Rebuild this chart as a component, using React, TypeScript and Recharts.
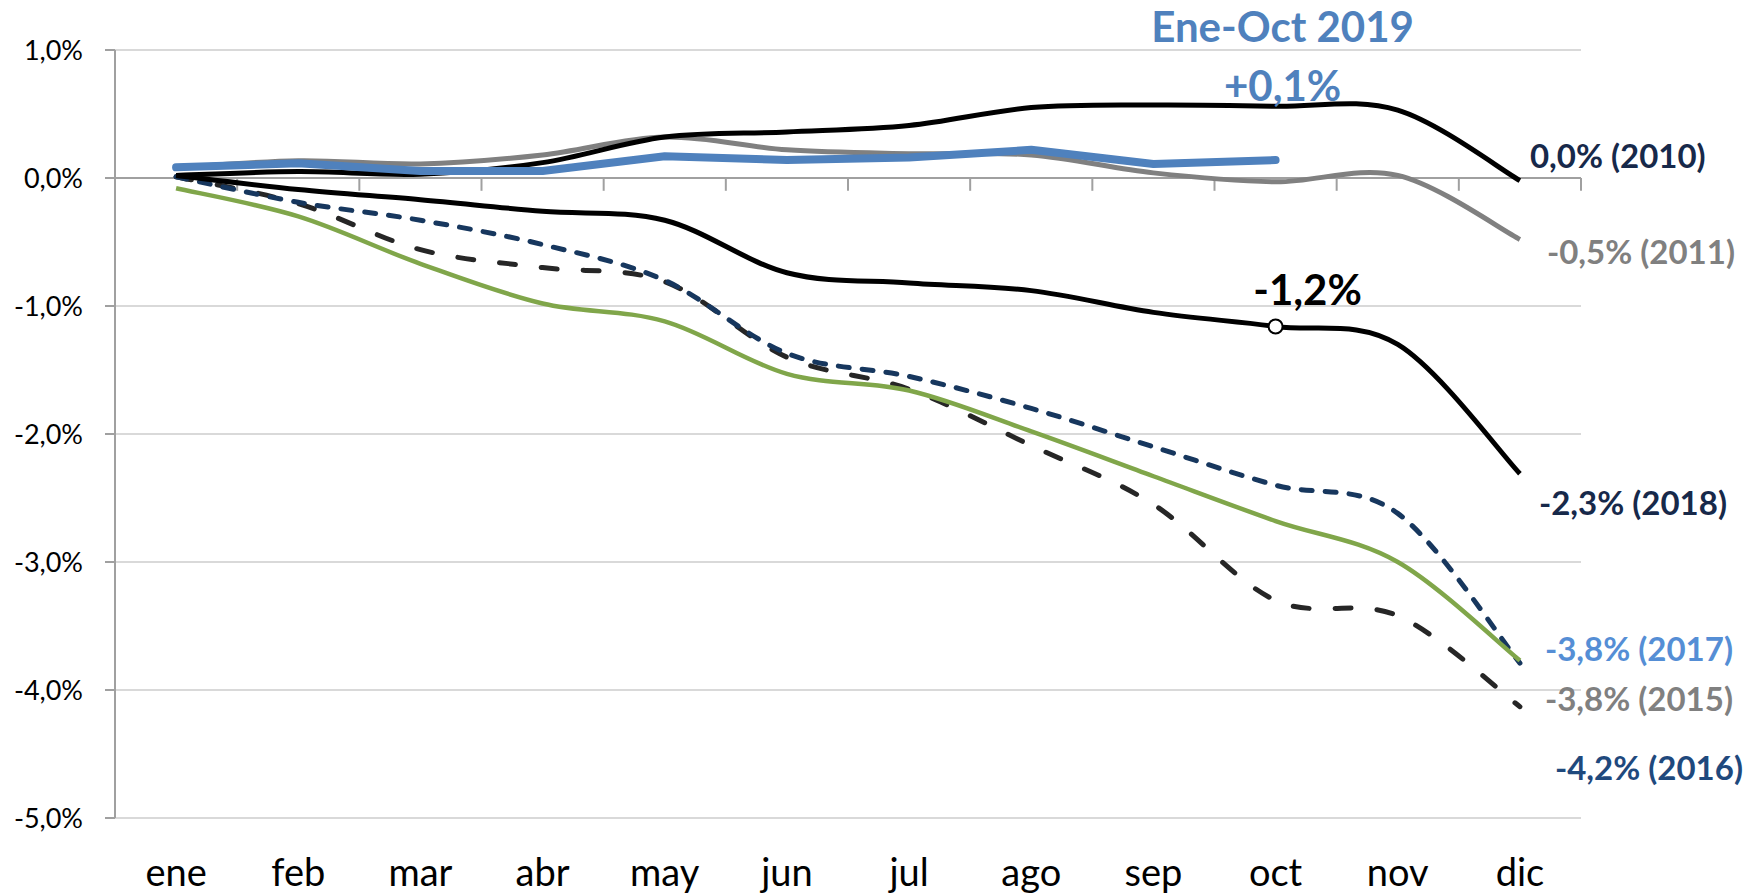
import React from 'react';
import { LineChart, Line, XAxis, YAxis, CartesianGrid, ReferenceLine } from 'recharts';

const MONTHS = ['ene', 'feb', 'mar', 'abr', 'may', 'jun', 'jul', 'ago', 'sep', 'oct', 'nov', 'dic'];
const Y_TICKS = [1, 0, -1, -2, -3, -4, -5];

// cumulative variation, %
const S2010 = [0.02, 0.05, 0.03, 0.12, 0.32, 0.36, 0.41, 0.55, 0.57, 0.56, 0.53, -0.02];
const S2011 = [0.08, 0.135, 0.11, 0.18, 0.32, 0.22, 0.19, 0.18, 0.04, -0.03, 0.02, -0.48];
const S2018 = [0.02, -0.09, -0.17, -0.26, -0.33, -0.74, -0.82, -0.88, -1.05, -1.16, -1.3, -2.31];
const S2017 = [0.01, -0.19, -0.33, -0.52, -0.8, -1.37, -1.55, -1.8, -2.1, -2.4, -2.62, -3.79];
const S2015 = [-0.08, -0.3, -0.67, -0.98, -1.12, -1.53, -1.66, -1.98, -2.33, -2.68, -3.0, -3.77];
const S2016 = [0.01, -0.2, -0.56, -0.7, -0.81, -1.4, -1.65, -2.09, -2.55, -3.3, -3.42, -4.13];
const S2019 = [0.084, 0.115, 0.055, 0.055, 0.17, 0.14, 0.16, 0.22, 0.11, 0.14];

const END_LABELS = {
  s2010: '0,0% (2010)',
  s2011: '-0,5% (2011)',
  s2018: '-2,3% (2018)',
  s2017: '-3,8% (2017)',
  s2015: '-3,8% (2015)',
  s2016: '-4,2% (2016)',
};

const data = MONTHS.map((m, i) => ({
  x: i + 0.5,
  month: m,
  s2010: S2010[i],
  s2011: S2011[i],
  s2018: S2018[i],
  s2017: S2017[i],
  s2015: S2015[i],
  s2016: S2016[i],
  s2019: S2019[i] ?? null,
}));

const LAST = MONTHS.length - 1;
const OCT = 9;

// excel-like smoothing (catmull-rom through the points)
const excelCurve = (ctx: any) => {
  let pts: number[][] = [];
  return {
    areaStart() {},
    areaEnd() {},
    lineStart() { pts = []; },
    point(x: number, y: number) { pts.push([+x, +y]); },
    lineEnd() {
      const n = pts.length;
      if (!n) return;
      ctx.moveTo(pts[0][0], pts[0][1]);
      for (let i = 0; i < n - 1; i++) {
        const p0 = pts[Math.max(i - 1, 0)], p1 = pts[i], p2 = pts[i + 1], p3 = pts[Math.min(i + 2, n - 1)];
        ctx.bezierCurveTo(
          p1[0] + (p2[0] - p0[0]) / 6, p1[1] + (p2[1] - p0[1]) / 6,
          p2[0] - (p3[0] - p1[0]) / 6, p2[1] - (p3[1] - p1[1]) / 6,
          p2[0], p2[1],
        );
      }
    },
  };
};

const fmtPct = (v: number) => `${v.toFixed(1).replace('.', ',')}%`;

const endLabel = (text: string, color: string, dx: number, dy: number) => (p: any) => {
  if (p.index !== LAST || p.cy == null) return <g key={p.index} />;
  return (
    <text key={p.index} x={p.cx + dx} y={p.cy + dy} fill={color} fontSize={33} fontWeight={700} dominantBaseline="central">
      {text}
    </text>
  );
};

const XTick = ({ x, y, payload }: any) => (
  <text x={x} y={y} dy={68} textAnchor="middle" fontSize={38} fill="#000">
    {MONTHS[Math.floor(payload.value)]}
  </text>
);

export default function App() {
  return (
    <div style={{ position: 'absolute', left: 0, top: 0, fontFamily: 'Lato', background: '#fff' }}>
      <LineChart width={1762} height={893} data={data} margin={{ top: 50, right: 181, bottom: 0, left: 0 }}>
        <CartesianGrid vertical={false} stroke="#d9d9d9" strokeWidth={2} />
        <XAxis
          dataKey="x"
          type="number"
          domain={[0, 12]}
          ticks={MONTHS.map((_, i) => i + 0.5)}
          axisLine={false}
          tickLine={false}
          tickSize={0}
          tickMargin={0}
          height={75}
          tick={<XTick />}
        />
        <YAxis
          type="number"
          domain={[-5, 1]}
          ticks={Y_TICKS}
          width={115}
          tickSize={10}
          tickMargin={22}
          tickFormatter={fmtPct}
          axisLine={{ stroke: '#a0a0a0', strokeWidth: 2 }}
          tickLine={{ stroke: '#a0a0a0', strokeWidth: 2 }}
          tick={{ fill: '#000', fontSize: 27 }}
        />
        <ReferenceLine y={0} stroke="#a0a0a0" strokeWidth={2} />
        {MONTHS.map((_, i) => (
          <ReferenceLine key={i} segment={[{ x: i + 1, y: 0 }, { x: i + 1, y: -0.1 }]} stroke="#a0a0a0" strokeWidth={2} />
        ))}

        <Line dataKey="s2016" type={excelCurve as any} stroke="#262626" strokeWidth={5} strokeDasharray="16 26" strokeLinecap="round"
          dot={endLabel(END_LABELS.s2016, '#1f497d', 35, 60)} activeDot={false} isAnimationActive={false} />
        <Line dataKey="s2017" type={excelCurve as any} stroke="#17375e" strokeWidth={5} strokeDasharray="11 13" strokeLinecap="round"
          dot={endLabel(END_LABELS.s2017, '#558ed5', 25, -15)} activeDot={false} isAnimationActive={false} />
        <Line dataKey="s2015" type={excelCurve as any} stroke="#80a64a" strokeWidth={4.5}
          dot={endLabel(END_LABELS.s2015, '#808080', 25, 37)} activeDot={false} isAnimationActive={false} />
        <Line dataKey="s2018" type={excelCurve as any} stroke="#000" strokeWidth={5}
          dot={(p: any) => {
            if (p.index === OCT) {
              return (
                <g key={p.index}>
                  <circle cx={p.cx} cy={p.cy} r={7} fill="#fff" stroke="#000" strokeWidth={2} />
                  <text x={p.cx + 32} y={p.cy - 37} textAnchor="middle" dominantBaseline="central" fontSize={42} fontWeight={700} fill="#000">
                    {fmtPct(S2018[OCT])}
                  </text>
                </g>
              );
            }
            return endLabel(END_LABELS.s2018, '#17294a', 19, 28)(p);
          }}
          activeDot={false} isAnimationActive={false} />
        <Line dataKey="s2011" type={excelCurve as any} stroke="#808080" strokeWidth={5}
          dot={endLabel(END_LABELS.s2011, '#808080', 27, 12)} activeDot={false} isAnimationActive={false} />
        <Line dataKey="s2010" type={excelCurve as any} stroke="#000" strokeWidth={5}
          dot={endLabel(END_LABELS.s2010, '#17294a', 10, -26)} activeDot={false} isAnimationActive={false} />
        <Line dataKey="s2019" type="linear" stroke="#4f81bd" strokeWidth={8} strokeLinecap="round" strokeLinejoin="round"
          dot={(p: any) => {
            if (p.index !== OCT || p.cy == null) return <g key={p.index} />;
            return (
              <g key={p.index}>
                <text x={p.cx + 7} y={p.cy - 134} textAnchor="middle" dominantBaseline="central" fontSize={42} fontWeight={700} fill="#4f81bd">
                  Ene-Oct 2019
                </text>
                <text x={p.cx + 7} y={p.cy - 75} textAnchor="middle" dominantBaseline="central" fontSize={42} fontWeight={700} fill="#4f81bd">
                  +0,1%
                </text>
              </g>
            );
          }}
          activeDot={false} isAnimationActive={false} />
      </LineChart>
    </div>
  );
}
